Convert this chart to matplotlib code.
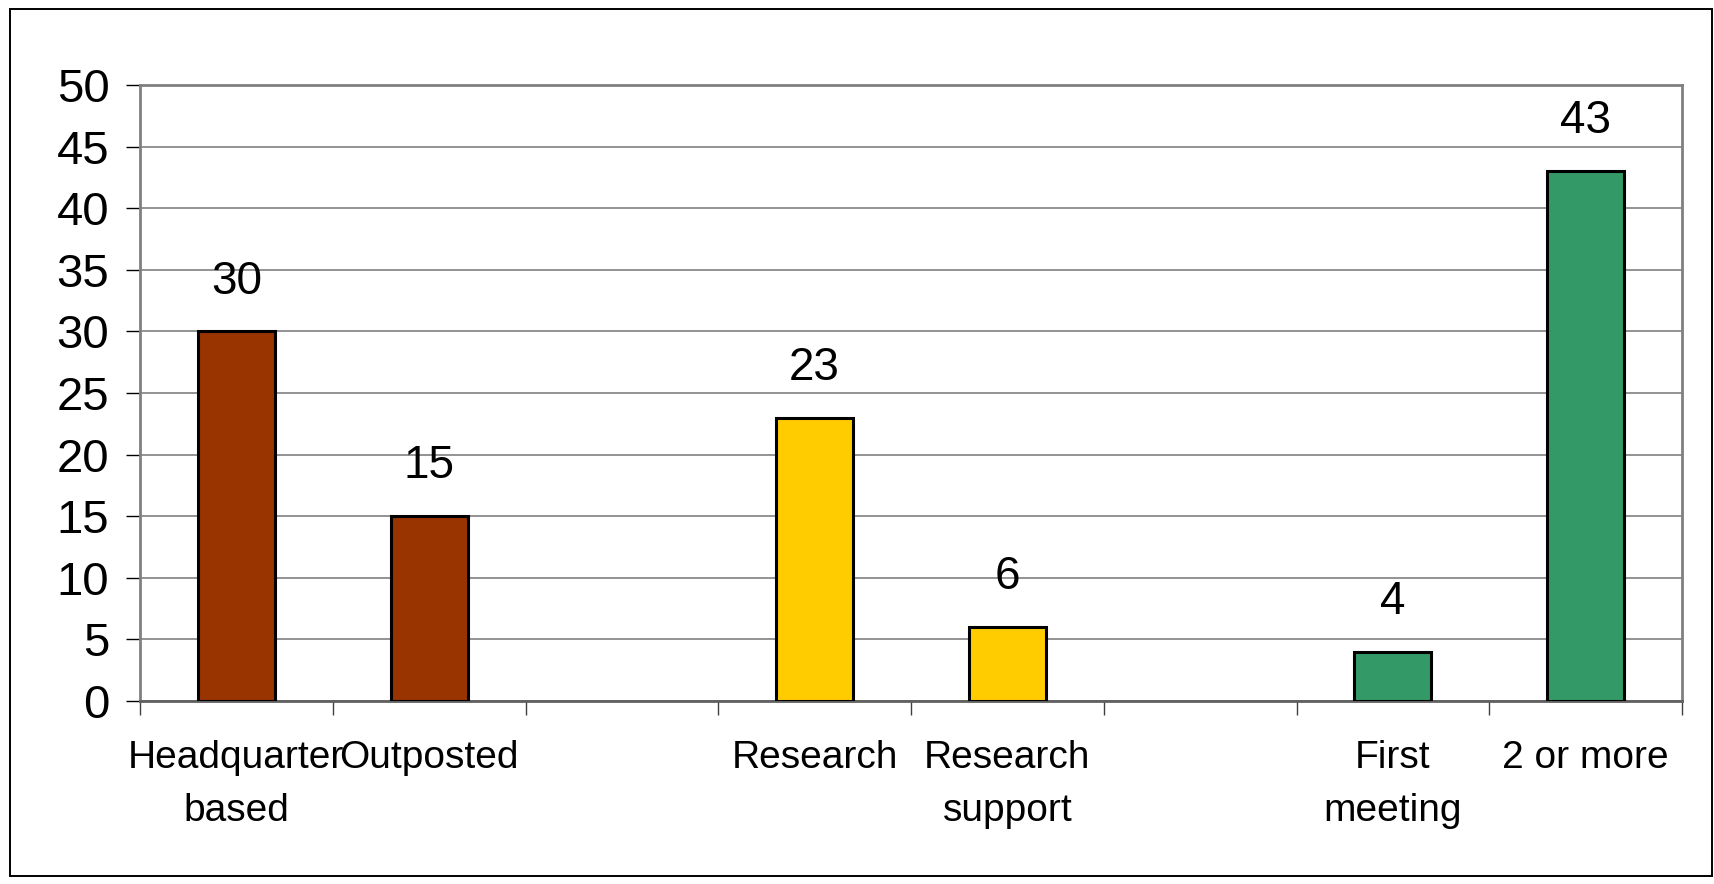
import numpy as np
import matplotlib
matplotlib.use("Agg")
import matplotlib.pyplot as plt
from matplotlib.patches import Rectangle

plt.rcParams['font.family'] = ['Liberation Sans', 'DejaVu Sans']

# DATOS (las posiciones vacias separan los grupos)
categorias = ["Headquarter\nbased", "Outposted", "", "Research",
              "Research\nsupport", "", "First\nmeeting", "2 or more"]
valores = [30, 15, np.nan, 23, 6, np.nan, 4, 43]
colores = ["#993300", "#993300", None, "#FFCC00",
           "#FFCC00", None, "#339966", "#339966"]

fig = plt.figure(figsize=(17.14, 8.84), dpi=100)
ax = fig.add_axes([140/1714, 1 - 701/884, (1682 - 140)/1714, (701 - 85)/884])

# borde exterior
fig.patches.append(Rectangle((10/1714, 1 - 876/884), 1702/1714, 867/884,
                             transform=fig.transFigure, fill=False,
                             edgecolor="black", linewidth=1.4))

x = np.arange(len(categorias))
for xi, v, c in zip(x, valores, colores):
    if np.isnan(v):
        continue
    ax.bar(xi, v, width=0.4, color=c, edgecolor="black", linewidth=2.2, zorder=3)
    ax.annotate(str(int(v)), (xi, v), xytext=(0, 20), textcoords="offset points",
                ha="center", va="bottom", fontsize=33)

ax.set_xlim(-0.5, len(categorias) - 0.5)
ax.set_ylim(0, 50)
ax.set_yticks(np.arange(0, 51, 5))
ax.yaxis.grid(True, color="#808080", linewidth=1.2, zorder=0)
ax.tick_params(axis="y", labelsize=34, length=10, width=1, pad=12)

# ticks en los limites de cada categoria, etiquetas centradas
ax.set_xticks(np.arange(len(categorias) + 1) - 0.5)
ax.set_xticklabels([])
ax.set_xticks(x, minor=True)
ax.set_xticklabels(categorias, minor=True, fontsize=28, linespacing=1.6)
ax.tick_params(axis="x", which="major", length=10, width=1, color="#404040")
ax.tick_params(axis="x", which="minor", length=0, pad=28)

for lado in ["top", "right", "left", "bottom"]:
    ax.spines[lado].set_color("#808080")
    ax.spines[lado].set_linewidth(2)
ax.spines["bottom"].set_color("#606060")

fig.savefig("out.png", dpi=100)
